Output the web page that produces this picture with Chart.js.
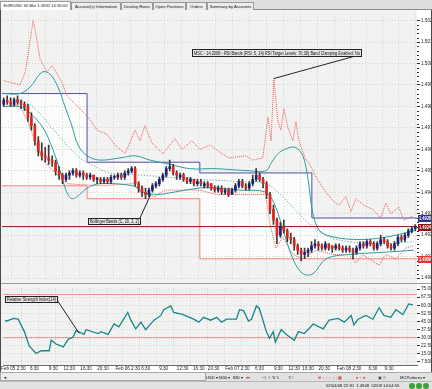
<!DOCTYPE html>
<html>
<head>
<meta charset="utf-8">
<script src="https://cdn.jsdelivr.net/npm/chart.js@4.4.1/dist/chart.umd.min.js"></script>
<style>
  body { margin:0; width:432px; height:389px; overflow:hidden; background:#e6e6e6; font-family:"Liberation Sans", Arial, sans-serif; position:relative; }
  .abs { position:absolute; }
  #tabs { left:0; top:0; width:432px; height:10px; background:#dedede; border-bottom:1px solid #8c8c8c; box-sizing:border-box; }
  .tab { position:absolute; top:2px; height:8px; font-size:4.2px; line-height:8px; color:#111; background:#ececec; border:1px solid #9a9a9a; border-bottom:none; box-sizing:border-box; text-align:center; white-space:nowrap; overflow:hidden; }
  .tab.on { background:#fff; top:1px; height:9px; }
  #main { left:0; top:10px; background:linear-gradient(to right,#f2f2f2 0,#f2f2f2 417px,#fff 417px); }
  #rsi { left:0; top:284px; background:linear-gradient(#fff,#fff) 0 81px/432px 7px no-repeat, linear-gradient(to right,#f2f2f2 0,#f2f2f2 417px,#fff 417px); }
  #sep { left:0; top:283px; width:432px; height:1px; background:#9c9c9c; }
  #edgeL { left:0; top:10px; width:1px; height:362px; background:#4a4a4a; }
  #edgeR { left:431px; top:10px; width:1px; height:362px; background:#4a4a4a; }
  .bar { font-size:4.2px; line-height:9px; color:#111; white-space:nowrap; box-sizing:border-box; }
  #scroll { left:0; top:372px; width:206px; height:9px; background:#ededed; border:1px solid #a8a8a8; }
  #tool { left:206px; top:372px; width:226px; height:9px; background:#e2e2e2; border-top:1px solid #a8a8a8; }
  #status { left:0; top:381px; width:432px; height:8px; background:#e2e2e2; border-top:1px solid #b8b8b8; line-height:8px; }
  .ic { position:absolute; top:0; }
  .dot { position:absolute; top:1px; width:6px; height:6px; border-radius:3px; background:#3aa33a; }
</style>
</head>
<body>
<div id="tabs" class="abs">
  <div class="tab on" style="left:0;width:71px">EUR/USD 30 Min 1.4932 14:30:00</div>
  <div class="tab" style="left:71px;width:50px">Account(s) Information</div>
  <div class="tab" style="left:121px;width:32px">Dealing Rates</div>
  <div class="tab" style="left:153px;width:33px">Open Positions</div>
  <div class="tab" style="left:186px;width:21px">Orders</div>
  <div class="tab" style="left:207px;width:47px">Summary by Accounts</div>
</div>
<canvas id="main" class="abs" width="432" height="274"></canvas>
<div id="sep" class="abs"></div>
<canvas id="rsi" class="abs" width="432" height="88"></canvas>
<div id="edgeL" class="abs"></div>
<div id="edgeR" class="abs"></div>
<div id="scroll" class="abs bar"><span style="margin-left:2px;font-size:4px">&#9668;</span></div>
<div id="tool" class="abs bar">
  <span class="ic" style="left:0px">USD &#9662;</span>
  <span class="ic" style="left:13px">M30 &#9662;</span>
  <span class="ic" style="left:27px">BID &#9662;</span>
  <span class="ic" style="left:40px;color:#d22">&#9830;&#9662;</span>
  <span class="ic" style="left:55px;color:#444">&#8867; &#8968; &#8801; &#8645; &#8623;</span>
  <span class="ic" style="left:82px;color:#444">T&#8260; &#8260;</span>
  <span class="ic" style="left:112px;color:#c22">&#8853; &#8595; &#8595; &#8593; &#8595; &#8593; &#9641;</span>
  <span class="ic" style="left:150px;color:#c22">&#9830; &#8722; &#9830;</span>
  <span class="ic" style="left:172px;color:#444">&#9635; &#8801;</span>
  <span class="ic" style="left:194px">MCPatterns &#9662;</span>
</div>
<div id="status" class="abs bar">
  <span class="ic" style="left:326px">02/04/08 22:30 &nbsp;1.4948 &nbsp;02/08 14:04:55</span>
  <span class="dot" style="left:409px"></span><span class="dot" style="left:416px"></span><span class="dot" style="left:423px"></span>
</div>

<script>
// EUR/USD candles, one entry per bar
const OPEN = [
  1.4981,1.4983,1.4982,1.4981,1.4983,1.4982,1.4981,1.4980,1.4975,1.4971,
  1.4964,1.4959,1.4957,1.4956,1.4955,1.4954,1.4950,1.4948,1.4946,1.4948,
  1.4949,1.4950,1.4948,1.4949,1.4948,1.4947,1.4948,1.4946,1.4946,1.4945,
  1.4946,1.4945,1.4947,1.4947,1.4948,1.4947,1.4949,1.4950,1.4951,1.4944,
  1.4942,1.4940,1.4939,1.4941,1.4943,1.4944,1.4946,1.4948,1.4951,1.4952,
  1.4949,1.4947,1.4948,1.4946,1.4945,1.4946,1.4944,1.4945,1.4943,1.4944,
  1.4944,1.4942,1.4941,1.4942,1.4940,1.4941,1.4939,1.4941,1.4943,1.4945,
  1.4943,1.4942,1.4944,1.4946,1.4948,1.4946,1.4944,1.4939,1.4932,1.4927,
  1.4920,1.4924,1.4922,1.4919,1.4918,1.4915,1.4913,1.4911,1.4912,1.4913,
  1.4915,1.4916,1.4915,1.4914,1.4916,1.4915,1.4914,1.4915,1.4914,1.4913,
  1.4914,1.4913,1.4912,1.4914,1.4916,1.4915,1.4917,1.4916,1.4914,1.4916,
  1.4918,1.4917,1.4915,1.4914,1.4916,1.4919,1.4918,1.4920,1.4922,1.4923
];
const HIGH = [
  1.4984,1.4985,1.4984,1.4984,1.4985,1.4983,1.4982,1.4981,1.4977,1.4972,
  1.4966,1.4963,1.4961,1.4962,1.4957,1.4955,1.4952,1.4949,1.4949,1.4950,
  1.4951,1.4951,1.4950,1.4950,1.4949,1.4949,1.4948,1.4947,1.4947,1.4947,
  1.4947,1.4948,1.4948,1.4949,1.4949,1.4950,1.4951,1.4952,1.4952,1.4945,
  1.4943,1.4942,1.4942,1.4944,1.4945,1.4947,1.4949,1.4952,1.4955,1.4953,
  1.4950,1.4949,1.4949,1.4947,1.4947,1.4946,1.4946,1.4946,1.4945,1.4945,
  1.4944,1.4943,1.4943,1.4943,1.4942,1.4942,1.4942,1.4944,1.4946,1.4946,
  1.4944,1.4945,1.4948,1.4951,1.4949,1.4947,1.4945,1.4940,1.4934,1.4928,
  1.4926,1.4927,1.4923,1.4921,1.4919,1.4916,1.4914,1.4914,1.4914,1.4917,
  1.4918,1.4917,1.4916,1.4917,1.4916,1.4915,1.4916,1.4916,1.4915,1.4915,
  1.4915,1.4914,1.4915,1.4917,1.4917,1.4918,1.4918,1.4917,1.4917,1.4920,
  1.4919,1.4918,1.4916,1.4917,1.4920,1.4920,1.4921,1.4923,1.4924,1.4925
];
const LOW = [
  1.4980,1.4981,1.4980,1.4980,1.4981,1.4979,1.4978,1.4973,1.4969,1.4962,
  1.4957,1.4955,1.4954,1.4953,1.4952,1.4948,1.4946,1.4944,1.4945,1.4946,
  1.4948,1.4947,1.4947,1.4946,1.4946,1.4946,1.4945,1.4944,1.4944,1.4944,
  1.4944,1.4944,1.4946,1.4946,1.4946,1.4946,1.4948,1.4949,1.4943,1.4940,
  1.4938,1.4937,1.4938,1.4940,1.4942,1.4943,1.4945,1.4947,1.4950,1.4948,
  1.4946,1.4946,1.4945,1.4944,1.4944,1.4943,1.4943,1.4943,1.4942,1.4942,
  1.4941,1.4940,1.4940,1.4939,1.4939,1.4938,1.4939,1.4940,1.4942,1.4942,
  1.4941,1.4941,1.4943,1.4945,1.4945,1.4942,1.4937,1.4930,1.4925,1.4916,
  1.4919,1.4921,1.4917,1.4916,1.4913,1.4911,1.4908,1.4909,1.4910,1.4912,
  1.4914,1.4913,1.4913,1.4913,1.4913,1.4912,1.4913,1.4913,1.4912,1.4912,
  1.4912,1.4909,1.4911,1.4913,1.4914,1.4914,1.4915,1.4913,1.4913,1.4915,
  1.4916,1.4914,1.4913,1.4913,1.4915,1.4917,1.4917,1.4919,1.4921,1.4922
];
const CLOSE = [
  1.4983,1.4982,1.4981,1.4983,1.4982,1.4981,1.4980,1.4975,1.4971,1.4964,
  1.4959,1.4957,1.4956,1.4955,1.4954,1.4950,1.4948,1.4946,1.4948,1.4949,
  1.4950,1.4948,1.4949,1.4948,1.4947,1.4948,1.4946,1.4946,1.4945,1.4946,
  1.4945,1.4947,1.4947,1.4948,1.4947,1.4949,1.4950,1.4951,1.4944,1.4942,
  1.4940,1.4939,1.4941,1.4943,1.4944,1.4946,1.4948,1.4951,1.4952,1.4949,
  1.4948,1.4948,1.4946,1.4945,1.4946,1.4944,1.4945,1.4944,1.4944,1.4943,
  1.4942,1.4941,1.4942,1.4940,1.4941,1.4939,1.4941,1.4943,1.4945,1.4943,
  1.4942,1.4944,1.4946,1.4948,1.4946,1.4944,1.4939,1.4932,1.4927,1.4920,
  1.4924,1.4922,1.4919,1.4918,1.4915,1.4913,1.4911,1.4912,1.4913,1.4915,
  1.4916,1.4915,1.4914,1.4916,1.4914,1.4914,1.4915,1.4914,1.4913,1.4914,
  1.4913,1.4912,1.4914,1.4916,1.4915,1.4917,1.4916,1.4914,1.4916,1.4918,
  1.4917,1.4915,1.4914,1.4916,1.4919,1.4918,1.4920,1.4922,1.4923,1.4924
];

// Bollinger Bands (C, 20, 2, 2)  [bar, price]
const BB_UPPER = [[0,1.4986],[4.7,1.4986],[7.6,1.4989],[11.1,1.4996],[13.4,1.4995],[15.7,1.4989],[17.7,1.4980],
  [19.7,1.4971],[21.5,1.4962],[24.1,1.4957],[27.8,1.4955],[33.6,1.4956],[38,1.4957],[42.3,1.4955],[48.1,1.4953],
  [53.8,1.4951],[61.4,1.4951],[71.2,1.4950],[75.8,1.4950],[77.5,1.4954],[79.3,1.4958],[81.3,1.4960],[84.2,1.4961],
  [86.5,1.4957],[88,1.4946],[89.4,1.4930],[91.4,1.4922],[95.8,1.4919],[103,1.4918],[110.2,1.4919],[118.6,1.4922]];
const BB_LOWER = [[0,1.4980],[4.7,1.4980],[7.6,1.4977],[11.4,1.4970],[14.2,1.4960],[16.3,1.4950],[18,1.4941],
  [19.7,1.4937],[22,1.4939],[24.1,1.4942],[27.8,1.4944],[37.4,1.4943],[40.3,1.4940],[44.3,1.4939],[49,1.4940],
  [56.7,1.4942],[61.4,1.4942],[68.3,1.4941],[75.8,1.4940],[78.4,1.4934],[80.7,1.4923],[83.6,1.4909],[86.5,1.4902],
  [89.4,1.4902],[93.2,1.4909],[99.8,1.4911],[109.6,1.4912],[118.6,1.4913]];
const BB_MID = [[0,1.4983],[4.7,1.4983],[9,1.4979],[13.4,1.4971],[17.7,1.4963],[22,1.4956],[26.4,1.4952],
  [30.7,1.4949],[39.4,1.4948],[48.1,1.4947],[56.7,1.4946],[68.3,1.4945],[75.8,1.4944],[79.9,1.4939],[84.2,1.4932],
  [88.6,1.4925],[94.3,1.4919],[100,1.4917],[108.7,1.4916],[118.6,1.4917]];

// RSI Bands: price where RSI(14) would reach 70 / 30  [bar, price]
const RSI_BAND_70 = [[0,1.4992],[2.4,1.4991],[4.7,1.4990],[6.2,1.4996],[7.3,1.5007],[8.5,1.5020],[9.3,1.5014],
  [10.5,1.5002],[12.5,1.4996],[14,1.4999],[14.8,1.4997],[16.9,1.4991],[18.3,1.4985],[22,1.4979],[24.4,1.4975],
  [27,1.4969],[29.9,1.4967],[32.2,1.4962],[35.1,1.4958],[38,1.4969],[39.4,1.4964],[40.8,1.4971],[42.9,1.4963],
  [46,1.4958],[49.5,1.4965],[51.5,1.4960],[54.4,1.4964],[56.7,1.4960],[59.6,1.4962],[62.2,1.4959],[65.1,1.4956],
  [70,1.4957],[72,1.4955],[74.9,1.4956],[76.4,1.4975],[77.3,1.4964],[78.1,1.4993],[79.3,1.4973],[80.1,1.4969],
  [81,1.4979],[82.2,1.4970],[83.6,1.4964],[84.5,1.4973],[85.3,1.4964],[86.5,1.4959],[87.4,1.4955],[88.2,1.4954],
  [90.3,1.4947],[93.2,1.4940],[95.2,1.4936],[96.9,1.4934],[98.9,1.4938],[100.4,1.4931],[101.8,1.4937],
  [104.1,1.4934],[106.7,1.4932],[109,1.4928],[110.5,1.4935],[111.9,1.4930],[114.2,1.4933],[115.7,1.4927],[118.3,1.4929]];
const RSI_BAND_30 = [[0,1.4980],[4.7,1.4980],[7,1.4973],[9,1.4964],[11.4,1.4955],[14.8,1.4949],[18.3,1.4944],
  [27.8,1.4943],[37.4,1.4944],[40.3,1.4939],[43.7,1.4938],[46.6,1.4941],[56.7,1.4941],[61.4,1.4939],[75.8,1.4939],
  [77,1.4925],[78.7,1.4914],[80.7,1.4919],[83.6,1.4911],[86.5,1.4909],[90.3,1.4913],[95.2,1.4911],[99.8,1.4911],
  [101.8,1.4907],[103.8,1.4911],[108.5,1.4906],[110.5,1.4911],[113.4,1.4909],[116.3,1.4914],[118.3,1.4915]];

// RSI target level steps  [bar, price]
const STEP_HI = [[-0.5,1.4986],[24.1,1.4954],[56.7,1.4949],[89.1,1.4928],[119.5,1.4928]];
const STEP_LO = [[-0.5,1.4943],[24.1,1.4937],[56.7,1.4909],[119.5,1.4909]];

// Relative Strength Index(14)  [bar, value]
const RSI = [[0,46.2],[0.4,45.3],[2.4,47.9],[3.8,47.1],[5.6,35.6],[7,22.4],[9,15.3],[10.5,17.9],[12.8,17.9],
  [13.4,27.7],[14.8,24.1],[16.9,21.5],[18.3,28.5],[19.7,30.3],[20.6,36.5],[22.9,33.0],[23.5,37.4],[27,33.8],
  [27.8,35.6],[29.9,33.0],[31.6,42.7],[33,40.0],[35.6,53.3],[36.5,46.2],[37.9,38.2],[39.4,44.4],[40.8,37.4],
  [43.2,46.2],[45.2,50.6],[46,55.9],[48.1,59.4],[48.9,53.3],[51.5,51.5],[54.7,47.1],[56.2,44.4],[57.6,48.8],
  [59.6,46.2],[61.4,48.8],[62.8,44.4],[64.3,47.1],[67.1,47.1],[68,55.9],[69.2,55.0],[70.6,45.3],[71.5,47.1],
  [72.9,59.4],[73.8,56.8],[75.8,35.6],[76.7,29.4],[77.8,35.6],[78.4,25.9],[80.1,37.4],[81.6,33.0],[83.9,27.7],
  [85.1,35.6],[86.8,33.8],[89.4,42.7],[92.3,38.2],[94,46.2],[96.6,47.9],[98.4,44.4],[100.4,50.6],[101.2,41.8],
  [102.4,47.1],[104.7,50.6],[106.7,47.1],[108.5,57.7],[109.9,50.6],[111.9,48.8],[113.4,55.9],[115.4,51.5],
  [117.1,61.2],[118.3,60.3]];
const RSI_LEVELS = [70, 30];

// axes
const PRICE_TICKS = [1.4900,1.4910,1.4920,1.4930,1.4940,1.4950,1.4960,1.4970,1.4980,1.4990,1.5000,1.5010,1.5020];
const RSI_TICKS = [7.5,15,22.5,30,37.5,45,52.5,60,67.5,75];
const GRID_POS = [4.7,9.6,14.5,19.5,24.4,29.3,34.2,39.1,44.0,48.9,53.8,58.8,63.7,68.6,73.5,78.4,83.3,88.2,93.2,98.1,102.7,107.3,111.9,116.6];
const LABEL_POS = [2.4,8.5,14.0,18.6,23.5,28.4,35.6,40.8,46.0,51.5,56.2,60.5,67.4,73.8,79.3,83.9,87.9,92.6,99.8,106.7,111.4];
const LABEL_TXT = ['Feb 05 2:30','6:30','9:30','12:30','16:30','20:30','Feb 06 2:30','6:30','9:30','12:30','16:30','20:30',
  'Feb 07 2:30','6:30','9:30','12:30','16:30','20:30','Feb 08 2:30','6:30','9:30'];

const N = CLOSE.length;
const X_MIN = -0.5, X_MAX = N - 0.5;
const LAST = CLOSE[N - 1];
const GRID = '#c9d8c1';
const FONT = 'Liberation Sans';

const pts = a => a.map(p => ({ x: p[0], y: p[1] }));
const flat = v => [{ x: X_MIN, y: v }, { x: X_MAX, y: v }];
const line = (data, color, extra) => Object.assign({ type: 'line', data, borderColor: color, borderWidth: 1, pointRadius: 0, fill: false }, extra);

// boxed notes with a leader line to a data point
function drawNote(ctx, n, ax, ay) {
  ctx.save();
  ctx.strokeStyle = '#222';
  ctx.lineWidth = 1;
  ctx.beginPath();
  ctx.moveTo(n.from[0], n.from[1]);
  ctx.lineTo(ax, ay);
  ctx.stroke();
  ctx.fillStyle = '#e6e6e6';
  ctx.fillRect(n.x, n.y, n.w, n.h);
  ctx.strokeRect(n.x + 0.5, n.y + 0.5, n.w, n.h);
  ctx.fillStyle = '#111';
  ctx.font = '4.6px "' + FONT + '"';
  ctx.textBaseline = 'middle';
  ctx.fillText(n.text, n.x + 2, n.y + n.h / 2 + 1, n.w - 3);
  ctx.restore();
}

const mainNotes = {
  id: 'mainNotes',
  afterDraw(chart) {
    const { ctx, chartArea: a, scales: { x, y } } = chart;
    // small ticks between the price labels
    ctx.save();
    ctx.strokeStyle = '#333';
    for (let k = 0; k < PRICE_TICKS.length - 1; k++) {
      const y0 = y.getPixelForValue(PRICE_TICKS[k]), y1 = y.getPixelForValue(PRICE_TICKS[k + 1]);
      for (let j = 1; j < 5; j++) {
        const py = Math.round(y0 + (y1 - y0) * j / 5) + 0.5;
        ctx.beginPath(); ctx.moveTo(a.right, py); ctx.lineTo(a.right + 2, py); ctx.stroke();
      }
    }
    ctx.restore();
    // price boxes on the axis
    [[STEP_HI[STEP_HI.length - 1][1], '#2e3192'], [LAST, '#8b1414'], [STEP_LO[STEP_LO.length - 1][1], '#e4362e']].forEach(([v, c]) => {
      const py = Math.round(y.getPixelForValue(v));
      ctx.fillStyle = c;
      ctx.fillRect(a.right + 1, py - 3, 14, 7);
      ctx.fillStyle = '#fff';
      ctx.font = 'bold 4.6px "' + FONT + '"';
      ctx.textBaseline = 'middle';
      ctx.fillText(v.toFixed(4), a.right + 2, py + 0.5, 12);
    });
    drawNote(ctx, { x: 192, y: 39, w: 169, h: 7, from: [359, 45],
      text: 'MSC - 14:2008 - RSI Bands (RSI: 5, 14) RSI Target Levels: 70,30) Band Clamping Enabled: No' },
      x.getPixelForValue(78.1), y.getPixelForValue(1.4993));
    drawNote(ctx, { x: 88, y: 208, w: 52, h: 6, from: [140, 208], text: 'Bollinger Bands (C, 20, 2, 2)' },
      x.getPixelForValue(42.5), y.getPixelForValue(1.4939));
  }
};

new Chart(document.getElementById('main'), {
  type: 'bar',
  data: {
    datasets: [
      { label: 'body', data: CLOSE.map((c, i) => ({ x: i, y: [OPEN[i], c] })),
        backgroundColor: CLOSE.map((c, i) => c >= OPEN[i] ? '#1e1e7c' : '#e2231d'),
        barThickness: 2, minBarLength: 1, grouped: false, order: 0 },
      { label: 'wick', data: CLOSE.map((c, i) => ({ x: i, y: [LOW[i], HIGH[i]] })),
        backgroundColor: '#3a3a3a', barThickness: 1, grouped: false, order: 1 },
      line(flat(LAST), '#8b1414', { order: 2 }),
      line(pts(BB_UPPER), '#2b9f9c', { tension: 0.35, order: 3 }),
      line(pts(BB_LOWER), '#2b9f9c', { tension: 0.35, order: 3 }),
      line(pts(BB_MID), '#2b9f9c', { tension: 0.35, borderDash: [1, 2], order: 3 }),
      line(pts(RSI_BAND_70), '#f0524c', { borderDash: [1, 1], order: 4 }),
      line(pts(RSI_BAND_30), '#f0524c', { borderDash: [1, 1], order: 4 }),
      line(pts(STEP_HI), '#4f4fa6', { stepped: true, fill: { target: 9, above: '#fcfcfc', below: '#fcfcfc' }, order: 6 }),
      line(pts(STEP_LO), '#f3857c', { stepped: true, order: 5 })
    ]
  },
  options: {
    responsive: false, animation: false, devicePixelRatio: 1,
    layout: { padding: { left: 2, top: 0, right: 0, bottom: 0 } },
    plugins: { legend: { display: false }, tooltip: { enabled: false }, filler: { drawTime: 'beforeDraw' } },
    scales: {
      x: { type: 'linear', min: X_MIN, max: X_MAX, offset: false,
        afterBuildTicks: s => { s.ticks = GRID_POS.map(v => ({ value: v })); },
        afterFit: s => { s.height = 1; },
        ticks: { display: false }, grid: { color: GRID, drawTicks: false }, border: { display: false, dash: [1, 2] } },
      y: { position: 'right', min: 1.4899, max: 1.50232,
        afterBuildTicks: s => { s.ticks = PRICE_TICKS.map(v => ({ value: v })); },
        afterFit: s => { s.width = 15; },
        ticks: { font: { family: FONT, size: 4.6 }, color: '#222', padding: 1, callback: v => v.toFixed(4) },
        grid: { color: GRID, tickColor: '#333', tickLength: 3 }, border: { display: false, dash: [1, 2] } }
    }
  },
  plugins: [mainNotes]
});

const rsiNotes = {
  id: 'rsiNotes',
  afterDraw(chart) {
    const { ctx, scales: { x, y } } = chart;
    drawNote(ctx, { x: 5, y: 12, w: 52, h: 6, from: [57, 16], text: 'Relative Strength Index(14)' },
      x.getPixelForValue(21.5), y.getPixelForValue(34));
  }
};

new Chart(document.getElementById('rsi'), {
  type: 'line',
  data: {
    datasets: [
      line(pts(RSI), '#17878a', { borderWidth: 1.3, order: 0 }),
      ...RSI_LEVELS.map(v => line(flat(v), '#e8322c', { borderDash: [1, 1], order: 1 }))
    ]
  },
  options: {
    responsive: false, animation: false, devicePixelRatio: 1,
    layout: { padding: { left: 2, top: 1, right: 0, bottom: 0 } },
    plugins: { legend: { display: false }, tooltip: { enabled: false } },
    scales: {
      x: { type: 'linear', min: X_MIN, max: X_MAX, offset: false,
        afterBuildTicks: s => { s.ticks = GRID_POS.map(v => ({ value: v })); },
        afterFit: s => { s.height = 0; },
        ticks: { display: false }, grid: { color: GRID, drawTicks: false }, border: { display: true, color: '#6a6a6a', dash: [1, 2] } },
      xl: { type: 'linear', position: 'bottom', min: X_MIN, max: X_MAX, offset: false,
        afterBuildTicks: s => { s.ticks = LABEL_POS.map(v => ({ value: v })); },
        afterFit: s => { s.height = 7; },
        ticks: { font: { family: FONT, size: 4.6 }, color: '#222', padding: 1, maxRotation: 0, autoSkip: false,
          callback: (v, i) => LABEL_TXT[i] },
        grid: { display: false, drawTicks: false }, border: { display: false } },
      y: { position: 'right', min: 4.7, max: 76.2,
        afterBuildTicks: s => { s.ticks = RSI_TICKS.map(v => ({ value: v })); },
        afterFit: s => { s.width = 15; },
        ticks: { font: { family: FONT, size: 4.6 }, color: '#222', padding: 1, callback: v => v.toFixed(4) },
        grid: { color: GRID, tickColor: '#333', tickLength: 3 }, border: { display: false, dash: [1, 2] } }
    }
  },
  plugins: [rsiNotes]
});
</script>
</body>
</html>
